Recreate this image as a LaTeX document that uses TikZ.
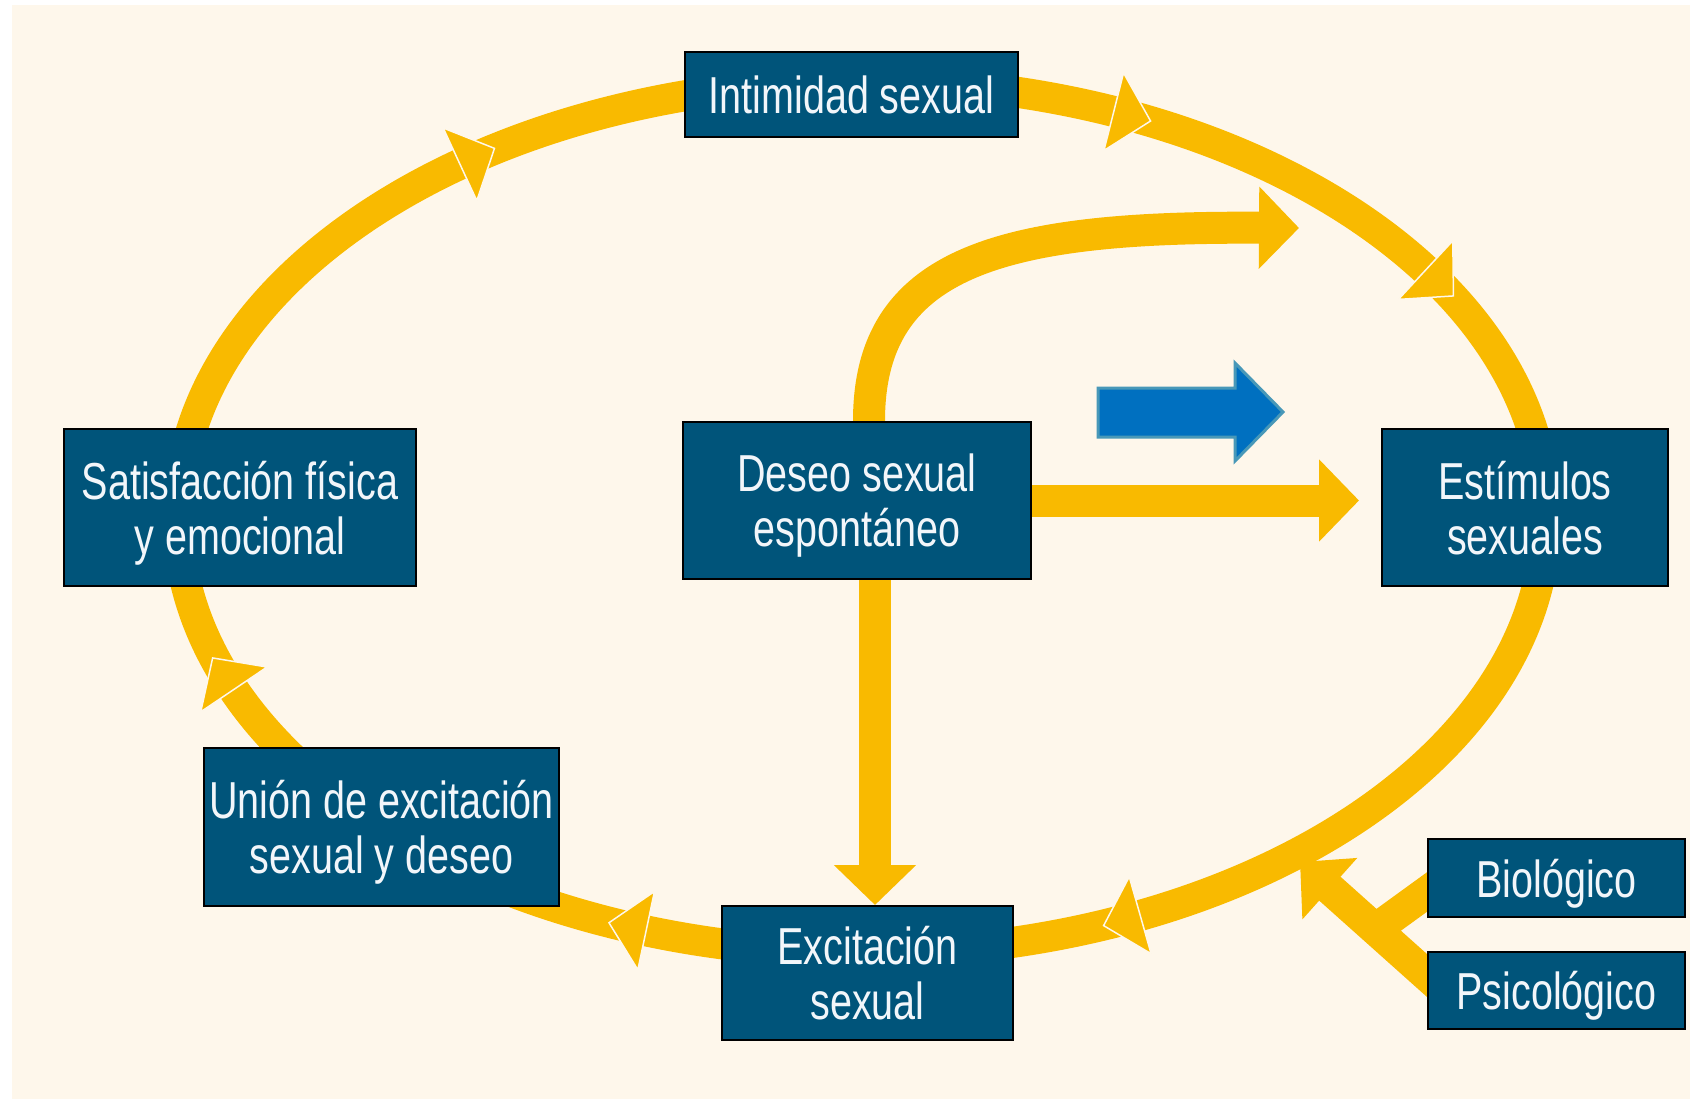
\documentclass[tikz,border=0pt]{standalone}
\usepackage{fontspec}
\setmainfont{Liberation Sans}[FakeStretch=0.76]
\usetikzlibrary{arrows.meta,calc,decorations.markings}
\pgfdeclarelayer{back}
\pgfsetlayers{back,main}

\definecolor{paper}{RGB}{254,247,235}
\definecolor{gold}{RGB}{249,186,0}
\definecolor{boxblue}{RGB}{0,84,122}
\definecolor{boxtext}{RGB}{242,246,250}
\definecolor{flowblue}{RGB}{0,112,192}
\definecolor{flowedge}{RGB}{72,152,184}

\begin{document}
\begin{tikzpicture}[x=1pt,y=-1pt,
  stage/.style={draw=black, line width=2pt, fill=boxblue, text=boxtext,
    align=center, inner sep=0pt, text depth=0pt,
    font=\fontsize{52pt}{55pt}\selectfont},
  ring/.style={draw=gold, line width=31pt},
  flow/.style={draw=gold, line width=32pt, -{Triangle[width=80pt,length=40pt]}},
  band/.style={draw=gold, line width=32pt},
  ringtip/.style={decorate, decoration={markings, mark=at position 0.5 with {
      \filldraw[fill=gold, draw=paper, line width=1.5pt]
        (38pt,0pt) -- (0pt,40pt) -- (0pt,-40pt) -- cycle;}}}
]
\useasboundingbox (0,0) rectangle (1690,1099);

\begin{pgfonlayer}{back}
  % paper
  \fill[white] (0,0) rectangle (1690,1099);
  \fill[paper] (12,5) rectangle (1690,1099);
  % the cycle ring and its arrowheads
  \coordinate (c) at (862,517);
  \draw[ring] (c) ellipse [x radius=684pt, y radius=436pt];
  \foreach \a/\b in {69.4/67.4, 35.5/33.5, -65/-67, -107.4/-109.4, 204.3/202.3, 127/125}
    \path[ringtip] ($(c)+(\a:684pt and 436pt)$) -- ($(c)+(\b:684pt and 436pt)$);
\end{pgfonlayer}

% stages
\node[stage, minimum width=333pt, minimum height=85pt]  (intim) at (851.5,94.5)  {Intimidad sexual};
\node[stage, minimum width=352pt, minimum height=157pt] (satis) at (240,507.5)   {Satisfacción física\\y emocional};
\node[stage, minimum width=348pt, minimum height=157pt] (deseo) at (857,500.5)   {Deseo sexual\\espontáneo};
\node[stage, minimum width=286pt, minimum height=157pt] (estim) at (1525,507.5)  {Estímulos\\sexuales};
\node[stage, minimum width=355pt, minimum height=158pt] (union) at (381.5,827)   {Unión de excitación\\sexual y deseo};
\node[stage, minimum width=291pt, minimum height=134pt] (excit) at (867.5,973)   {Excitación\\sexual};
\node[stage, minimum width=257pt, minimum height=78pt]  (bio)   at (1556.5,878)  {Biológico};
\node[stage, minimum width=257pt, minimum height=77pt]  (psico) at (1556.5,990.5) {Psicológico};

\coordinate (looptip) at (1299,228);
\coordinate (factip) at (1300,862);
\coordinate (merge) at (1376,929);

\begin{pgfonlayer}{back}
  \draw[flow, shorten >=22pt] (deseo.east) -- (deseo.east -| estim.west);
  \draw[flow] ([xshift=18pt]deseo.south) -- ([xshift=18pt]deseo.south |- excit.north);
  \draw[flow] ([xshift=12pt]deseo.north) .. controls (869,262) and (1000,226) .. (looptip);
  \draw[flow] ($([yshift=15pt]psico.west)!-25pt!(factip)$) -- (factip);
  \draw[band] ($([yshift=-14pt]bio.west)!-25pt!(merge)$) -- (merge);
\end{pgfonlayer}

% block arrow
\filldraw[fill=flowblue, draw=flowedge, line width=3pt]
  (1098,388) -- (1235,388) -- (1235,363) -- (1283,412) -- (1235,461)
  -- (1235,437) -- (1098,437) -- cycle;
\end{tikzpicture}
\end{document}
